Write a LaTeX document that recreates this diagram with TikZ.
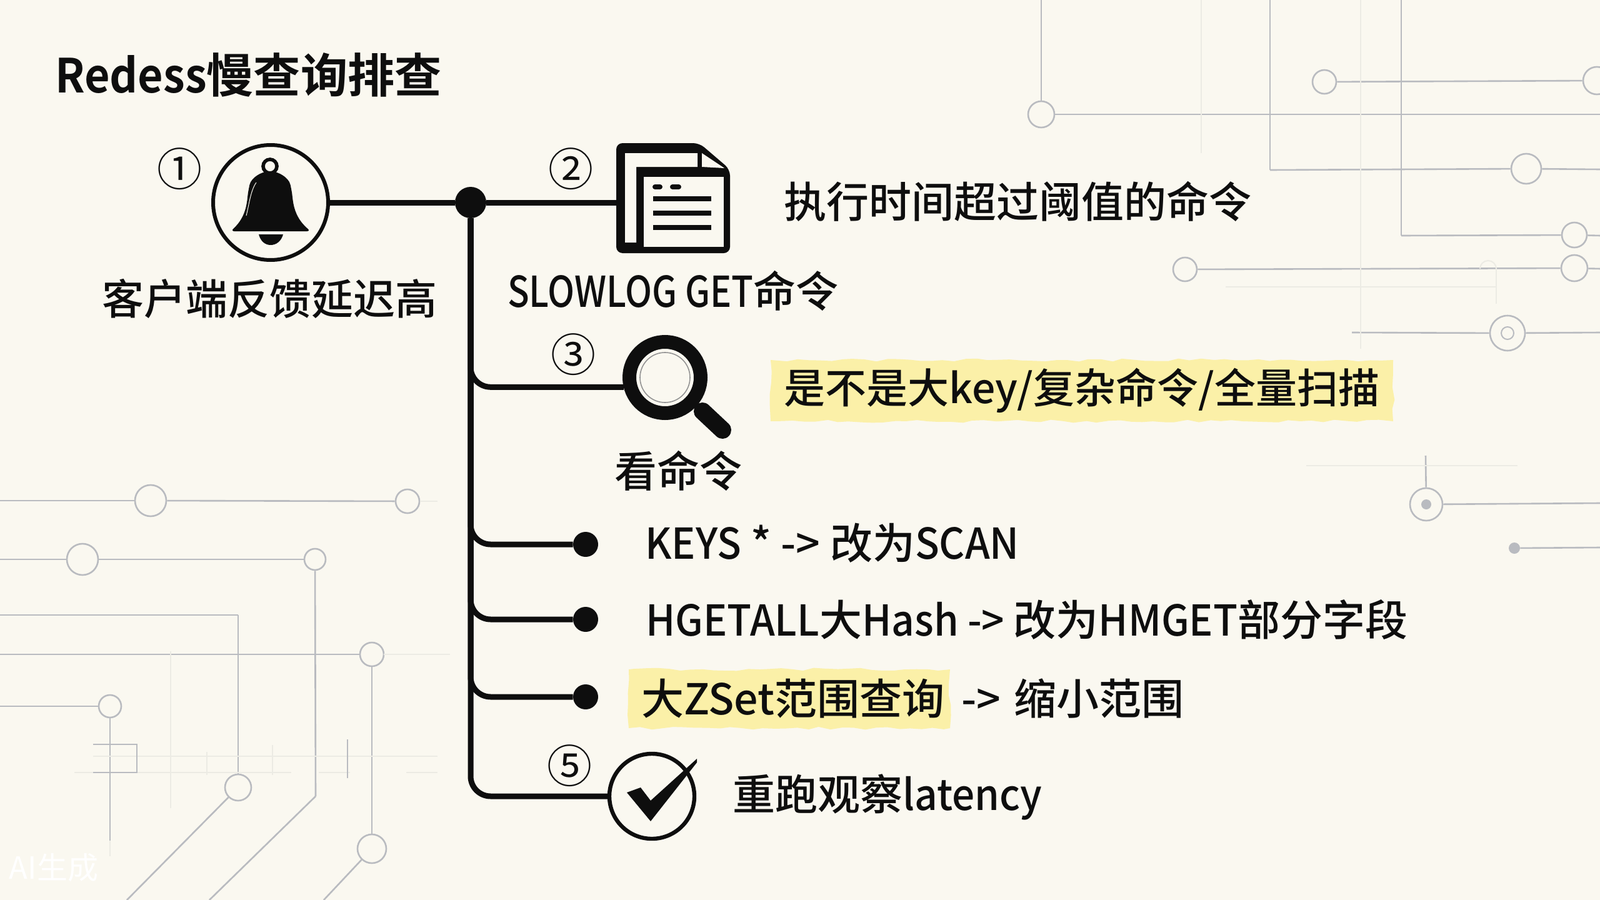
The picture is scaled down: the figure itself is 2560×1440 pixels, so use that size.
\documentclass[tikz,border=0pt]{standalone}
\usepackage{fontspec}
\usetikzlibrary{decorations.pathmorphing}
\setmainfont{Noto Sans CJK SC Medium}
\newfontfamily\plainfont{Noto Sans CJK SC}
\newfontfamily\headfont{Noto Sans CJK SC Bold}
\newfontfamily\headlatin{Noto Sans CJK SC Bold}[FakeStretch=0.93]
\newfontfamily\slimfont{Noto Sans CJK SC Medium}[FakeStretch=0.94]
\newfontfamily\narrowfont{Noto Sans CJK SC Medium}[FakeStretch=0.84]
\definecolor{paper}{HTML}{FAF8F0}
\definecolor{ink}{HTML}{0E0E0E}
\definecolor{trace}{HTML}{B9BBC0}
\definecolor{faint}{HTML}{ECEBE4}
\definecolor{marker}{HTML}{FBF0A8}
\newcommand{\bodyfont}{\fontsize{34pt}{40pt}\selectfont}
\tikzset{
  pad/.style={circle, draw=trace, line width=1.3pt, fill=paper, inner sep=0pt},
  label/.style={inner sep=0pt, text=ink, font=\bodyfont},
  hilite/.style={label, fill=marker, decorate, decoration={random steps, segment length=9pt, amplitude=1.2pt}},
  num/.style={inner sep=0pt, text=ink, font=\plainfont\fontsize{36pt}{40pt}\selectfont},
  wire/.style={draw=ink, line width=4.5pt, rounded corners=16pt},
  ring/.style={circle, draw=ink, fill=paper, inner sep=0pt},
  bullet/.style={circle, fill=ink, inner sep=0pt, minimum size=20pt}
}
\begin{document}
\begin{tikzpicture}[x=0.5pt, y=-0.5pt]
    \useasboundingbox (0,0) rectangle (2560,1440);
    \fill[paper] (0,0) rectangle (2560,1440);

    \coordinate (l1) at (0,801);
    \coordinate (l2) at (0,895);
    \coordinate (l3) at (0,984);
    \coordinate (l4) at (0,1047);
    \coordinate (l5) at (0,1130);
    \coordinate (c3) at (381,984);
    \coordinate (c2) at (505,1274);
    \coordinate (d1) at (335,1440);
    \coordinate (d2) at (203,1440);
    \coordinate (d3) at (518,1440);
    \coordinate (e5) at (176,1345);
    \coordinate (t1) at (1666,0);
    \coordinate (t2) at (2032,0);
    \coordinate (t3) at (2242,0);
    \coordinate (c6) at (2032,272);
    \coordinate (c7) at (2242,377);
    \coordinate (r1) at (2560,183);
    \coordinate (r2) at (2560,271);
    \coordinate (r3) at (2560,377);
    \coordinate (r4) at (2560,430);
    \coordinate (r5) at (2560,532);
    \coordinate (s5) at (2163,532);
    \coordinate (r6) at (2560,805);
    \coordinate (r7) at (2560,876);
    \coordinate (t8) at (2281,729);

    \node (p1) at (241,801) [pad, minimum size=25pt] {};
    \node (p2) at (652,802) [pad, minimum size=19pt] {};
    \node (p3) at (132,895) [pad, minimum size=25pt] {};
    \node (p4) at (504,895) [pad, minimum size=17pt] {};
    \node (p5) at (595,1047) [pad, minimum size=19pt] {};
    \node (p6) at (176,1130) [pad, minimum size=18pt] {};
    \node (p7) at (381,1260) [pad, minimum size=21pt] {};
    \node (p8) at (595,1358) [pad, minimum size=23pt] {};
    \node (p9) at (1666,183) [pad, minimum size=21pt] {};
    \node (p10) at (2119,131) [pad, minimum size=19pt] {};
    \node (p11) at (2555,129) [pad, minimum size=22pt] {};
    \node (p12) at (2442,270) [pad, minimum size=24pt] {};
    \node (p13) at (2519,376) [pad, minimum size=20pt] {};
    \node (p14) at (1896,431) [pad, minimum size=19pt] {};
    \node (p15) at (2519,429) [pad, minimum size=21pt] {};
    \node (p16) at (2412,533) [pad, minimum size=28pt] {};
    \node (p17) at (2412,533) [pad, line width=1pt, minimum size=10pt] {};
    \node (p18) at (2282,807) [pad, minimum size=26pt] {};
    \node (p19) at (2282,807) [circle, fill=trace, inner sep=0pt, minimum size=8pt] {};
    \node (p20) at (2423,877) [circle, fill=trace, inner sep=0pt, minimum size=9pt] {};

    \foreach \source/\dest in {l1/p1, p1/p2, l2/p3, p3/p4, p4/c2, c2/d1, l3/c3, c3/p7, p7/d2, l4/p5, p5/p8, p8/d3, l5/p6, p6/e5, t1/p9, p9/r1, p10/p11, t2/c6, c6/p12, p12/r2, t3/c7, c7/p13, p13/r3, p14/p15, p15/r4, s5/p16, p16/r5, t8/p18, p18/r6, p20/r7}
      \path[draw=trace, line width=1.3pt] (\source) edge (\dest);

    \foreach \xa/\ya/\xb/\yb in {672/802/700/802, 614/1047/720/1047, 176/1345/176/1370, 273/1042/273/1293, 149/1210/700/1210, 119/1236/466/1236, 510/1236/560/1236, 650/1236/700/1236, 331/1203/331/1240, 436/1192/436/1240, 1922/0/1922/245, 2177/0/2177/558, 1961/459/2394/459, 2394/430/2394/486, 2090/745/2428/745}
      \draw[faint, line width=1pt] (\xa,\ya) -- (\xb,\yb);
    \draw[trace, line width=1.1pt] (149,1191) -- (219,1191) -- (219,1236) -- (149,1236);
    \draw[trace, line width=1pt] (556,1183) -- (556,1245);
    \draw[faint, line width=1pt] (2368,430) arc (180:360:13);

    \node (title) at (88,120) [anchor=west, inner sep=0pt, text=ink, font=\headfont\fontsize{37.6pt}{44pt}\selectfont] {{\headlatin\fontsize{37.6pt}{44pt}\selectfont Redess}慢查询排查};
    \node (mark) at (86,1388) [inner sep=0pt, text=white, font=\plainfont\fontsize{24.5pt}{28pt}\selectfont] {AI生成};

    \node (bell) at (433,324) [ring, line width=3pt, minimum size=92pt] {};
    \node (hub) at (753,324) [circle, fill=ink, inner sep=0pt, minimum size=25pt] {};
    \node (doc) at (1077,317) [inner sep=0pt, minimum width=91pt, minimum height=88pt] {};
    \node (lens) at (1064,604) [ring, line width=11pt, minimum size=57pt] {};
    \node (check) at (1043,1274) [ring, line width=3.2pt, minimum size=68pt] {};
    \node (b1) at (937,871) [bullet] {};
    \node (b2) at (937,991) [bullet] {};
    \node (b3) at (937,1115) [bullet] {};

    \draw[wire] (bell) -- (hub);
    \draw[wire] (hub) -- (hub -| doc.west);
    \foreach \dest in {lens.193, b1, b2, b3, check}
      \draw[wire] (hub) |- (\dest);

    \fill[ink, rounded corners=3pt] (369,370) .. controls (396,345) and (395,320) .. (398,302) .. controls (402,283) and (420,275) .. (432,275) .. controls (444,275) and (462,283) .. (466,302) .. controls (469,320) and (468,345) .. (497,370) -- cycle;
    \draw[ink, line width=2.8pt] (432,266) circle (11);
    \fill[ink] (414,375) -- (453,375) .. controls (450,386) and (442,392) .. (433,392) .. controls (424,392) and (417,386) .. (414,375) -- cycle;
    \draw[paper, line width=0.5pt] (394,345) .. controls (399,325) and (401,305) .. (410,292);

    \fill[ink, rounded corners=5pt] (986,229) -- (1119,229) -- (1168,271) -- (1168,405) -- (986,405) -- cycle;
    \fill[paper] (1000,245) -- (1116,245) -- (1116,267) -- (1018,267) -- (1018,388) -- (1000,388) -- cycle;
    \fill[paper] (1123,245) -- (1159,269) -- (1123,267) -- cycle;
    \fill[paper] (1030,283) rectangle (1158,395);
    \foreach \y in {318, 341, 364}
      \draw[ink, line width=4pt] (1045,\y) -- (1138,\y);
    \draw[ink, line width=4pt, line cap=round] (1048,299) -- (1056,299);
    \draw[ink, line width=4pt, line cap=round] (1076,299) -- (1086,299);

    \draw[ink!45, line width=0.8pt] (1064,604) circle (40);
    \draw[ink, line width=5pt] (1108,644) -- (1126,660);
    \draw[ink, line width=14pt, line cap=round] (1124,658) -- (1156,688);

    \fill[ink] (1003,1268) -- (1025,1260) -- (1041,1281) -- (1115,1214) -- (1115,1220) -- (1041,1314) -- cycle;

    \node (n1) at (287,270) [num] {①};
    \node (n2) at (913,270) [num] {②};
    \node (n3) at (917,567) [num] {③};
    \node (n5) at (911,1225) [num] {⑤};

    \node (t1a) at (431,478) [label, font=\fontsize{33.5pt}{40pt}\selectfont] {客户端反馈延迟高};
    \node (t2a) at (1077,465) [label] {{\narrowfont SLOWLOG GET}命令};
    \node (t2b) at (1254,322) [label, anchor=west] {执行时间超过阈值的命令};
    \node (t3a) at (1085,753) [label] {看命令};
    \node (t3b) at (1731,625) [hilite, font=\fontsize{33pt}{40pt}\selectfont, minimum width=498pt, minimum height=49pt] {是不是大key/复杂命令/全量扫描};
    \node (t4a) at (1032,869) [label, anchor=west] {{\slimfont KEYS} * -> 改为{\slimfont SCAN}};
    \node (t4b) at (1033,991) [label, anchor=west] {{\slimfont HGETALL}大{\slimfont Hash -> }改为{\slimfont HMGET}部分字段};
    \node (t4c) at (1263,1118) [hilite, minimum width=257pt, minimum height=47pt] {\hspace*{6pt}大ZSet范围查询};
    \node (t4d) at (1538,1117) [label, anchor=west] {->\hspace{3pt} 缩小范围};
    \node (t5a) at (1172,1275) [label, anchor=west] {重跑观察{\slimfont latency}};
\end{tikzpicture}
\end{document}
